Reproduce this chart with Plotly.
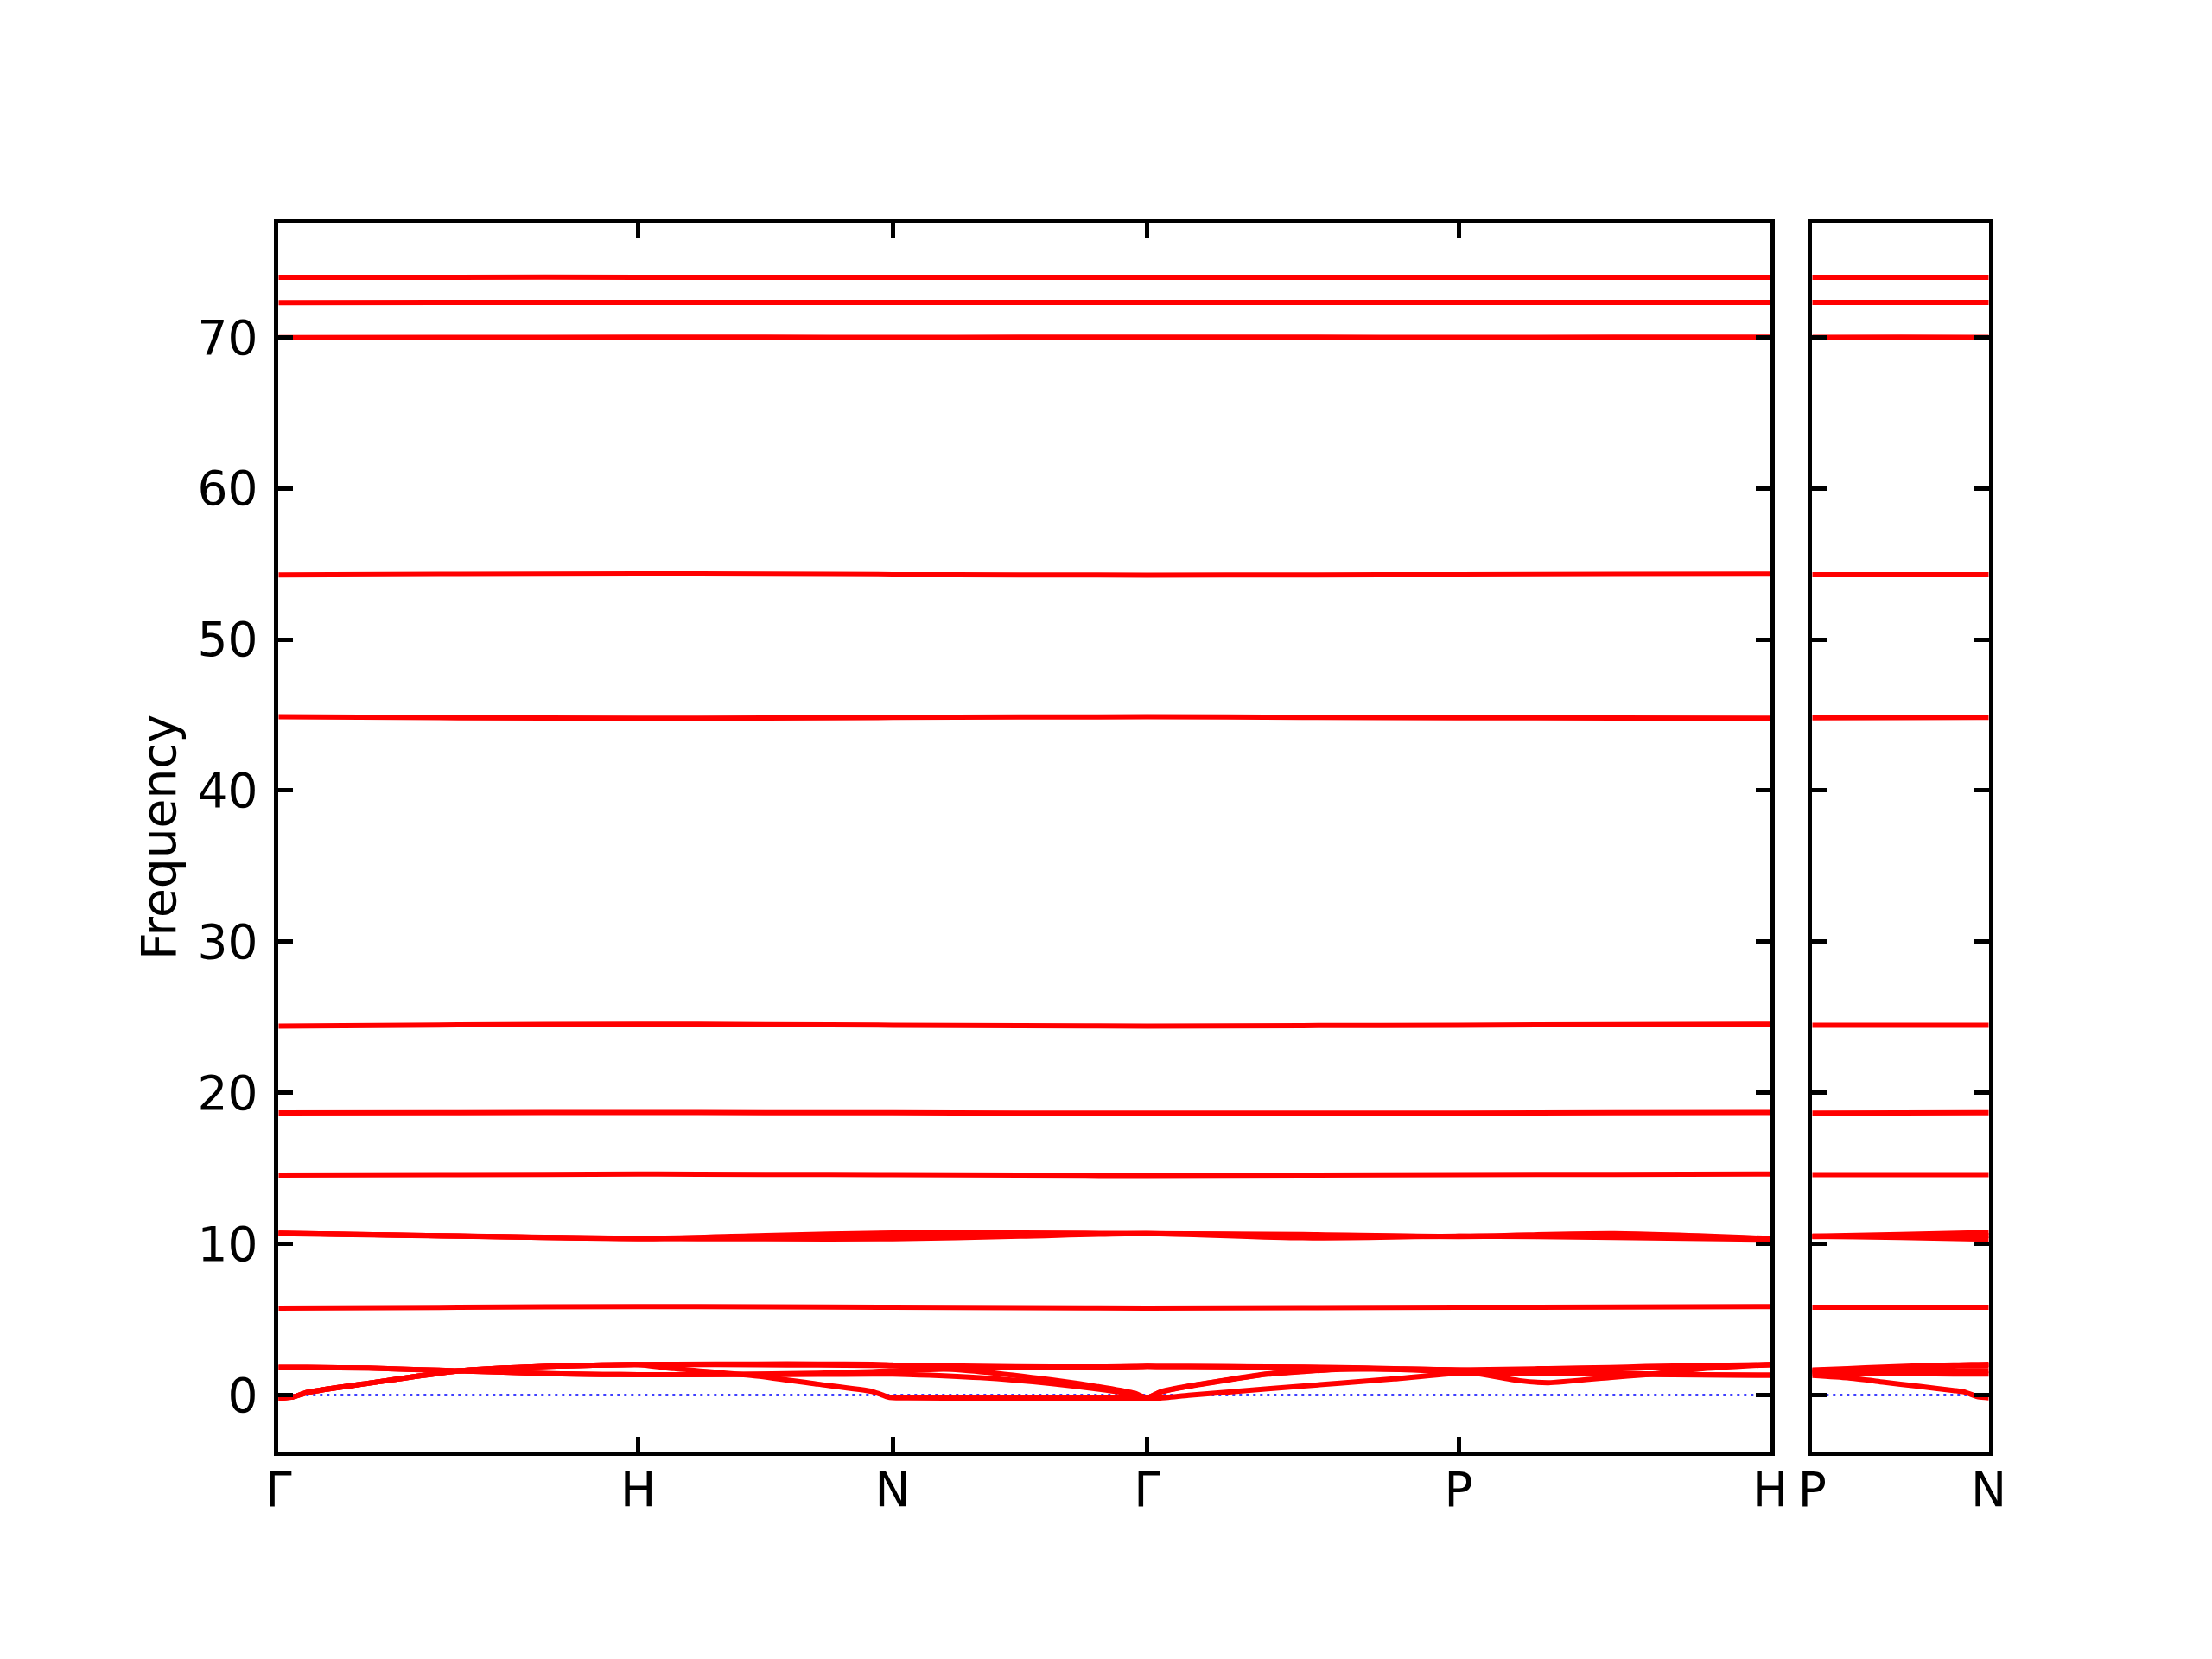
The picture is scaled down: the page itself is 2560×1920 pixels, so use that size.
import plotly.graph_objects as go

# ---------------- data ----------------
# high-symmetry labels / positions (path length units, Gamma-H = 1)
path_labels = ["Γ", "H", "N", "Γ", "P", "H"]
path_ticks = [0.0, 1.0, 1.7071, 2.4142, 3.2802, 4.1463]
path2_labels = ["P", "N"]
path2_ticks = [0.0, 0.5]

# medium sampling (high-symmetry points + midpoints) for the flat optical bands
k_med = [0.0, 0.5, 1.0, 1.3536, 1.7071, 2.0607, 2.4142, 2.8472, 3.2802, 3.7133, 4.1463]
k2_med = [0.0, 0.25, 0.5]

band74 = [73.96, 73.97, 73.97, 73.96, 73.96, 73.96, 73.96, 73.96, 73.96, 73.97, 73.97]
band72 = [72.29, 72.30, 72.31, 72.31, 72.30, 72.31, 72.31, 72.31, 72.30, 72.31, 72.31]
band70 = [69.98, 69.99, 70.00, 70.00, 69.99, 70.00, 70.00, 70.00, 69.99, 70.00, 70.00]
band54 = [54.28, 54.32, 54.35, 54.33, 54.30, 54.28, 54.27, 54.28, 54.30, 54.32, 54.33]
band45 = [44.88, 44.82, 44.78, 44.80, 44.84, 44.87, 44.88, 44.85, 44.82, 44.80, 44.78]
band24 = [24.42, 24.50, 24.55, 24.52, 24.48, 24.44, 24.42, 24.45, 24.48, 24.52, 24.55]
band18 = [18.67, 18.68, 18.70, 18.69, 18.68, 18.66, 18.65, 18.65, 18.66, 18.68, 18.70]
band14 = [14.55, 14.58, 14.62, 14.60, 14.58, 14.55, 14.52, 14.55, 14.58, 14.60, 14.62]
band10a = [10.70, 10.52, 10.35, 10.55, 10.72, 10.72, 10.68, 10.62, 10.50, 10.68, 10.35]
band10b = [10.70, 10.52, 10.35, 10.34, 10.33, 10.50, 10.68, 10.40, 10.50, 10.42, 10.30]
band10c = [10.68, 10.50, 10.36, 10.45, 10.55, 10.62, 10.68, 10.55, 10.48, 10.55, 10.33]
band06 = [5.75, 5.80, 5.85, 5.83, 5.80, 5.77, 5.75, 5.77, 5.80, 5.82, 5.85]

p2_band74 = [73.96, 73.96, 73.96]
p2_band72 = [72.30, 72.30, 72.30]
p2_band70 = [69.99, 70.00, 69.99]
p2_band54 = [54.30, 54.30, 54.30]
p2_band45 = [44.82, 44.83, 44.84]
p2_band24 = [24.48, 24.48, 24.48]
p2_band18 = [18.66, 18.67, 18.68]
p2_band14 = [14.58, 14.58, 14.58]
p2_band10a = [10.50, 10.62, 10.75]
p2_band10b = [10.50, 10.42, 10.30]
p2_band10c = [10.48, 10.50, 10.55]
p2_band06 = [5.80, 5.80, 5.80]

# fine sampling for the low-frequency (acoustic / librational) bands
k_fine = [0.0, 0.04, 0.08, 0.25, 0.5, 0.75, 0.9, 1.0,
          1.1, 1.33, 1.5, 1.65, 1.69, 1.7071,
          1.75, 1.95, 2.15, 2.3, 2.38, 2.4142,
          2.45, 2.53, 2.75, 2.95, 3.1, 3.2802,
          3.45, 3.53, 3.7, 3.8, 3.95, 4.1463]

low1 = [-0.20, -0.13, 0.17, 0.78, 1.60, 1.90, 1.98, 2.02,
        2.03, 2.05, 2.05, 2.03, 2.00, 1.98,
        1.96, 1.90, 1.86, 1.86, 1.88, 1.90,
        1.89, 1.88, 1.86, 1.82, 1.75, 1.62,
        0.95, 0.82, 1.16, 1.35, 1.73, 2.02]
low2 = [-0.20, -0.13, 0.17, 0.78, 1.60, 1.90, 1.98, 2.02,
        2.02, 2.00, 1.98, 1.96, 1.96, 1.96,
        1.90, 1.55, 1.00, 0.48, 0.12, -0.20,
        0.20, 0.60, 1.40, 1.72, 1.72, 1.66,
        1.72, 1.75, 1.82, 1.88, 1.95, 2.02]
low3 = [-0.20, -0.13, 0.17, 0.78, 1.60, 1.90, 1.98, 2.02,
        1.75, 1.26, 0.72, 0.24, -0.10, -0.18,
        -0.19, -0.20, -0.20, -0.20, -0.20, -0.20,
        -0.20, -0.02, 0.41, 0.79, 1.07, 1.45,
        1.45, 1.42, 1.38, 1.36, 1.33, 1.31]
low4 = [1.83, 1.83, 1.83, 1.78, 1.60, 1.42, 1.36, 1.35,
        1.35, 1.36, 1.37, 1.38, 1.38, 1.38,
        1.36, 1.15, 0.75, 0.33, 0.05, -0.20,
        0.18, 0.58, 1.38, 1.70, 1.72, 1.66,
        1.50, 1.48, 1.44, 1.40, 1.35, 1.31]
low5 = [1.83, 1.83, 1.83, 1.78, 1.60, 1.42, 1.36, 1.35,
        1.35, 1.38, 1.45, 1.55, 1.60, 1.62,
        1.65, 1.78, 1.84, 1.85, 1.87, 1.90,
        1.89, 1.88, 1.85, 1.80, 1.70, 1.55,
        1.58, 1.62, 1.72, 1.80, 1.90, 2.00]

k2_fine = [0.0, 0.1, 0.2, 0.3, 0.4, 0.43, 0.47, 0.5]
p2_low1 = [1.66, 1.75, 1.85, 1.93, 1.98, 2.00, 2.02, 2.03]
p2_low2 = [1.62, 1.70, 1.78, 1.85, 1.92, 1.94, 1.95, 1.96]
p2_low3 = [1.55, 1.56, 1.58, 1.59, 1.60, 1.61, 1.62, 1.62]
p2_low4 = [1.45, 1.43, 1.41, 1.40, 1.39, 1.38, 1.38, 1.38]
p2_low5 = [1.30, 1.14, 0.86, 0.58, 0.30, 0.21, -0.12, -0.18]

y_ticks = [0, 10, 20, 30, 40, 50, 60, 70]

# ---------------- figure ----------------
RED = "rgb(255,0,0)"
LW = 6
FONT = "DejaVu Sans, Liberation Sans, Arial, sans-serif"
FS = 55

# axis frame: plotly draws the frame line just outside the domain,
# so the domain is pulled in by half a line width
W, H = 2560.0, 1920.0
AXLW = 4.6
half = AXLW / 2.0
fx0, fx1 = 320.0, 2051.0        # panel 1 frame (px)
gx0, gx1 = 2095.0, 2304.0       # panel 2 frame (px)
fy0, fy1 = 256.0, 1682.0        # frame top / bottom (px)
y_lo, y_hi = -3.86, 77.68       # value range at frame lines

ky = (y_hi - y_lo) / (fy1 - fy0)
x_range = [path_ticks[0], path_ticks[-1]]
x2_range = [path2_ticks[0], path2_ticks[-1]]
y_range = [y_lo + half * ky, y_hi - half * ky]
x_dom = [(fx0 + half) / W, (fx1 - half) / W]
x2_dom = [(gx0 + half) / W, (gx1 - half) / W]
y_dom = [1 - (fy1 - half) / H, 1 - (fy0 + half) / H]

fig = go.Figure()

# zero reference lines (blue dotted)
fig.add_trace(go.Scatter(x=[path_ticks[0], path_ticks[-1]], y=[0, 0], mode="lines",
                         line=dict(color="rgb(0,0,255)", width=2.6, dash="3px,5px"),
                         xaxis="x", yaxis="y", hoverinfo="skip"))
fig.add_trace(go.Scatter(x=[path2_ticks[0], path2_ticks[-1]], y=[0, 0], mode="lines",
                         line=dict(color="rgb(0,0,255)", width=2.6, dash="3px,5px"),
                         xaxis="x2", yaxis="y2", hoverinfo="skip"))

main_high = [band74, band72, band70, band54, band45, band24, band18, band14,
             band10a, band10b, band10c, band06]
side_high = [p2_band74, p2_band72, p2_band70, p2_band54, p2_band45, p2_band24,
             p2_band18, p2_band14, p2_band10a, p2_band10b, p2_band10c, p2_band06]
for b in main_high:
    fig.add_trace(go.Scatter(x=k_med, y=b, mode="lines", line=dict(color=RED, width=LW, shape="spline", smoothing=0.8),
                             xaxis="x", yaxis="y"))
for b in side_high:
    fig.add_trace(go.Scatter(x=k2_med, y=b, mode="lines", line=dict(color=RED, width=LW, shape="spline", smoothing=0.8),
                             xaxis="x2", yaxis="y2"))
for b in [low1, low2, low3, low4, low5]:
    fig.add_trace(go.Scatter(x=k_fine, y=b, mode="lines", line=dict(color=RED, width=LW, shape="spline", smoothing=0.5),
                             xaxis="x", yaxis="y"))
for b in [p2_low1, p2_low2, p2_low3, p2_low4, p2_low5]:
    fig.add_trace(go.Scatter(x=k2_fine, y=b, mode="lines", line=dict(color=RED, width=LW, shape="spline", smoothing=0.5),
                             xaxis="x2", yaxis="y2"))

axis_common = dict(showgrid=False, zeroline=False, showline=True, linecolor="black",
                   linewidth=AXLW, mirror="ticks", ticks="inside", ticklen=17, tickwidth=AXLW,
                   tickcolor="black", automargin=False,
                   tickfont=dict(family=FONT, size=FS, color="black"))

fig.update_layout(
    template="none",
    width=2560, height=1920,
    margin=dict(l=0, r=0, t=0, b=0, pad=0),
    paper_bgcolor="white", plot_bgcolor="white",
    showlegend=False,
    font=dict(family=FONT, color="black"),
    xaxis=dict(domain=x_dom, range=x_range,
               tickmode="array", tickvals=path_ticks, ticktext=path_labels,
               ticklabelstandoff=-8, anchor="y", **axis_common),
    xaxis2=dict(domain=x2_dom, range=x2_range,
                tickmode="array", tickvals=path2_ticks, ticktext=path2_labels,
                ticklabelstandoff=-8, anchor="y2", **axis_common),
    yaxis=dict(domain=y_dom, range=y_range, tickmode="array", tickvals=y_ticks,
               ticktext=[str(v) for v in y_ticks], ticklabelstandoff=8, anchor="x",
               title=dict(text="Frequency", font=dict(family=FONT, size=FS, color="black"), standoff=9),
               **axis_common),
    yaxis2=dict(domain=y_dom, range=y_range, tickmode="array", tickvals=y_ticks,
                showticklabels=False, anchor="x2", **axis_common),
)

fig.write_html("out.html", config={"displayModeBar": False},
               post_script="document.body.style.margin='0px';")
